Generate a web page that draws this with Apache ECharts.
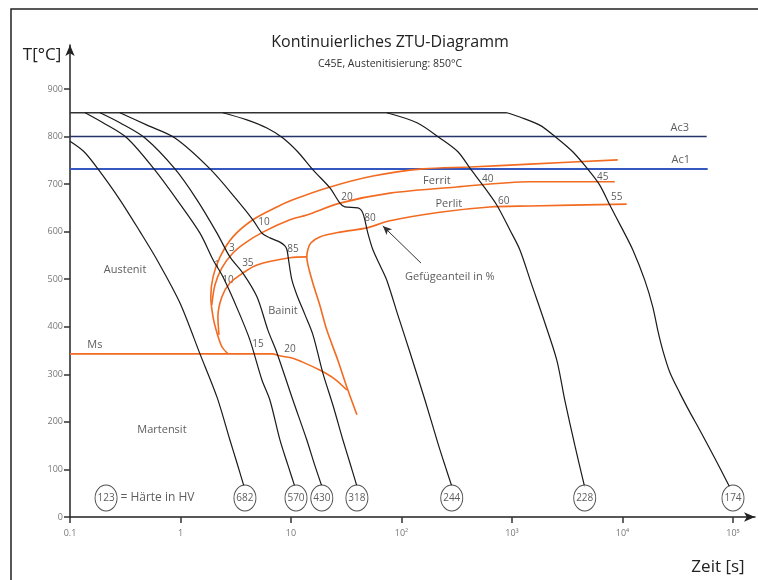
<!DOCTYPE html>
<html>
<head>
<meta charset="utf-8">
<script src="https://cdn.jsdelivr.net/npm/echarts@6/dist/echarts.min.js"></script>
<style>
  html, body { margin: 0; padding: 0; background: #fff; }
  #chart { width: 758px; height: 580px; }
</style>
</head>
<body>
<div id="chart"></div>
<script>
// Zeit [s] / Temperatur [°C]
const austenitLine = [[0.1, 850], [898, 850]]
const ac3Line = [[0.1, 800], [57800, 800]]
const ac1Line = [[0.1, 732], [59000, 732]]

const curve682 = [[0.1, 790], [0.134, 768], [0.179, 732], [0.283, 667], [0.43, 600], [0.612, 541], [0.989, 450], [1.5, 343], [2.14, 252], [2.8, 162], [3.24, 114], [3.75, 65]]
const curve570 = [[0.137, 850], [0.199, 829], [0.328, 797], [0.575, 732], [0.929, 667], [1.5, 597], [1.97, 541], [2.42, 505], [3.31, 435], [4.25, 372], [5.46, 288], [6.44, 246], [7.94, 162], [9.38, 109], [10.8, 65]]
const curve430 = [[0.187, 850], [0.283, 829], [0.477, 797], [0.891, 732], [1.41, 667], [2.14, 597], [2.8, 547], [3.67, 513], [4.92, 463], [6.18, 393], [7.46, 345], [10.4, 246], [13.9, 162], [16.4, 109], [19, 65]]
const curve318 = [[0.283, 850], [0.498, 824], [0.891, 797], [1.85, 732], [3.24, 667], [4.52, 625], [5.46, 597], [6.44, 587], [7.94, 578], [8.81, 570], [9.19, 562], [9.57, 536], [10.2, 498], [11.3, 467], [13.4, 425], [15.8, 383], [19.4, 303], [23.9, 236], [29.5, 162], [34.1, 114], [39.5, 65]]
const curve244 = [[2.42, 850], [3.99, 835], [6.05, 818], [8.45, 797], [11.5, 768], [15.8, 730], [22.5, 692], [27.7, 660], [30.7, 652], [40.3, 650], [44.7, 639], [49.6, 597], [55.1, 562], [63.7, 530], [73.6, 498], [92.6, 425], [119, 347], [163, 246], [213, 156], [247, 109], [285, 65]]
const curve228 = [[73.6, 850], [138, 829], [222, 797], [324, 768], [415, 734], [568, 692], [728, 656], [955, 604], [1177, 562], [1511, 488], [1900, 421], [2542, 330], [3003, 246], [3700, 151], [4550, 63]]
const curve174 = [[898, 850], [1177, 841], [1783, 824], [2542, 797], [3546, 768], [4750, 734], [6224, 698], [7670, 656], [9840, 608], [12380, 562], [15900, 498], [18790, 442], [20840, 393], [23120, 351], [26740, 305], [32960, 261], [40570, 221], [49990, 183], [68280, 124], [93300, 63]]

const ferritStart = [[2.69, 343], [2.37, 358], [2.14, 387], [1.97, 421], [1.88, 463], [1.97, 505], [2.28, 547], [2.98, 589], [4.52, 625], [7.45, 652], [10.4, 667], [21.1, 692], [55.1, 717], [156, 732], [415, 736], [1449, 742], [9060, 751]]
const perlitStart = [[1.92, 446], [2.05, 488], [2.37, 524], [2.98, 555], [3.83, 576], [5.57, 599], [9.77, 625], [13.9, 635], [27.7, 660], [78.5, 681], [317, 694], [1449, 705], [8510, 705]]
const bainitStart = [[2.23, 383], [2.18, 421], [2.37, 463], [2.8, 492], [3.67, 513], [4.92, 530], [9.77, 545], [13.9, 547]]
const umwandlungEnde = [[10900, 658], [1449, 654], [629, 652], [222, 641], [78.5, 623], [48.6, 608], [27.7, 599], [18.2, 589], [15.1, 576], [14.2, 562], [13.9, 547], [15.5, 498], [18.2, 446], [21.1, 393], [26.5, 330], [32.7, 267], [39.5, 215]]
const msLine = [[0.1, 343], [6.71, 343], [7.94, 339], [10.4, 334], [12.1, 328], [18.2, 309], [24.9, 290], [32, 267]]

// Härte in HV (Kreise)
const haerte = [[0.212, 40, '123'], [3.83, 40, '682'], [11.1, 40, '570'], [19, 40, '430'], [39.5, 40, '318'], [285, 40, '244'], [4550, 40, '228'], [100000, 40, '174']]

// Gefügeanteile in %
const anteile = [[2.14, 530, '1'], [2.92, 566, '3'], [2.69, 498, '10'], [4.07, 534, '35'], [5.69, 620, '10'], [10.4, 564, '85'], [32.1, 673, '20'], [51.8, 629, '80'], [604, 711, '40'], [843, 665, '60'], [6620, 715, '45'], [8870, 673, '55'], [5.02, 364, '15'], [9.77, 353, '20']]

const gebiete = [[0.315, 520, 'Austenit'], [8.45, 433, 'Bainit'], [0.679, 183, 'Martensit'], [0.168, 362, 'Ms'], [209, 707, 'Ferrit'], [268, 658, 'Perlit'], [32960, 818, 'Ac3'], [33650, 751, 'Ac1'], [274, 505, 'Gefügeanteil in %']]
const legendeText = [[0.283, 40, '= Härte in HV']]
const pfeil = [[150, 534], [67.8, 612]]

const xTicks = ['0.1', '1', '10', '10²', '10³', '10⁴', '10⁵']

const font = 'Open Sans'
const orange = '#f26b21'

const chart = echarts.init(document.getElementById('chart'))

function curve(data, color, width) {
  return {
    type: 'line',
    data: data,
    showSymbol: false,
    symbol: 'none',
    smooth: 0.3,
    clip: false,
    silent: true,
    lineStyle: { color: color, width: width },
  }
}

function textSeries(data, size, color) {
  return {
    type: 'scatter',
    data: data,
    symbolSize: 1,
    silent: true,
    clip: false,
    itemStyle: { color: 'transparent' },
    label: {
      show: true,
      position: 'inside',
      formatter: p => p.value[2],
      fontFamily: font,
      fontSize: size,
      color: color,
    },
  }
}

const msSeries = curve(msLine, orange, 1.6)
msSeries.markLine = {
  silent: true,
  animation: false,
  symbol: ['none', 'arrow'],
  symbolSize: [6, 9],
  label: { show: false },
  lineStyle: { color: '#333', width: 1, type: 'solid' },
  data: [[{ coord: pfeil[0] }, { coord: pfeil[1] }]],
}

chart.setOption({
  animation: false,
  backgroundColor: '#fff',
  grid: [
    { left: 70, right: 25, top: 89, bottom: 63 },
    { left: 70, right: 3, top: 45, bottom: 63 },
  ],
  xAxis: [
    {
      type: 'log',
      logBase: 10,
      gridIndex: 0,
      min: 0.1,
      max: 100000,
      axisLine: { show: false },
      axisTick: { show: true, inside: false, length: 6, lineStyle: { color: '#333', width: 1.5 } },
      minorTick: { show: false },
      splitLine: { show: false },
      axisLabel: {
        margin: 12,
        color: '#777',
        fontFamily: font,
        fontSize: 9,
        formatter: v => xTicks[Math.round(Math.log10(v)) + 1],
      },
    },
    {
      type: 'log',
      logBase: 10,
      gridIndex: 1,
      min: 0.1,
      max: 157000,
      axisLine: { show: true, symbol: ['none', 'arrow'], symbolSize: [7, 11], lineStyle: { color: '#222', width: 1.5 } },
      axisTick: { show: false },
      axisLabel: { show: false },
      splitLine: { show: false },
    },
  ],
  yAxis: [
    {
      type: 'value',
      gridIndex: 0,
      min: 0,
      max: 900,
      interval: 100,
      axisLine: { show: false },
      axisTick: { show: true, length: 6, lineStyle: { color: '#333', width: 1.5 } },
      splitLine: { show: false },
      axisLabel: { margin: 7, color: '#777', fontFamily: font, fontSize: 9 },
    },
    {
      type: 'value',
      gridIndex: 1,
      min: 0,
      max: 992,
      axisLine: { show: true, symbol: ['none', 'arrow'], symbolSize: [7, 11], lineStyle: { color: '#222', width: 1.5 } },
      axisTick: { show: false },
      axisLabel: { show: false },
      splitLine: { show: false },
    },
  ],
  graphic: [
    { type: 'rect', shape: { x: 11, y: 9, width: 800, height: 620 }, style: { fill: 'none', stroke: '#222', lineWidth: 1.5 }, silent: true },
    { type: 'text', x: 390, y: 42, style: { text: 'Kontinuierliches ZTU-Diagramm', fontFamily: font, fontSize: 16, fill: '#222', align: 'center', verticalAlign: 'middle' } },
    { type: 'text', x: 390, y: 64, style: { text: 'C45E, Austenitisierung: 850°C', fontFamily: font, fontSize: 10.5, fill: '#333', align: 'center', verticalAlign: 'middle' } },
    { type: 'text', x: 42, y: 55, style: { text: 'T[°C]', fontFamily: font, fontSize: 17, fill: '#222', align: 'center', verticalAlign: 'middle' } },
    { type: 'text', x: 718, y: 567, style: { text: 'Zeit [s]', fontFamily: font, fontSize: 17, fill: '#222', align: 'center', verticalAlign: 'middle' } },
  ],
  series: [
    curve(ac3Line, '#27336b', 1.5),
    curve(ac1Line, '#3557c0', 2),
    curve(ferritStart, orange, 1.6),
    curve(perlitStart, orange, 1.6),
    curve(bainitStart, orange, 1.6),
    curve(umwandlungEnde, orange, 1.6),
    msSeries,
    curve(austenitLine, '#333', 1.5),
    curve(curve682, '#1a1a1a', 1.2),
    curve(curve570, '#1a1a1a', 1.2),
    curve(curve430, '#1a1a1a', 1.2),
    curve(curve318, '#1a1a1a', 1.2),
    curve(curve244, '#1a1a1a', 1.2),
    curve(curve228, '#1a1a1a', 1.2),
    curve(curve174, '#1a1a1a', 1.2),
    {
      type: 'scatter',
      data: haerte,
      symbol: 'path://M0,10 A10,10 0 1,1 20,10 A10,10 0 1,1 0,10 Z',
      symbolSize: [22, 26],
      silent: true,
      clip: false,
      itemStyle: { color: '#fff', borderColor: '#222', borderWidth: 1 },
      label: {
        show: true,
        position: 'inside',
        formatter: p => p.value[2],
        fontFamily: font,
        fontSize: 10,
        color: '#333',
      },
      z: 5,
    },
    textSeries(anteile, 10, '#333'),
    textSeries(gebiete, 11, '#333'),
    Object.assign(textSeries(legendeText, 12, '#333'), {
      label: { show: true, position: 'right', distance: 0, formatter: p => p.value[2], fontFamily: font, fontSize: 12, color: '#333' },
    }),
  ],
})
</script>
</body>
</html>
